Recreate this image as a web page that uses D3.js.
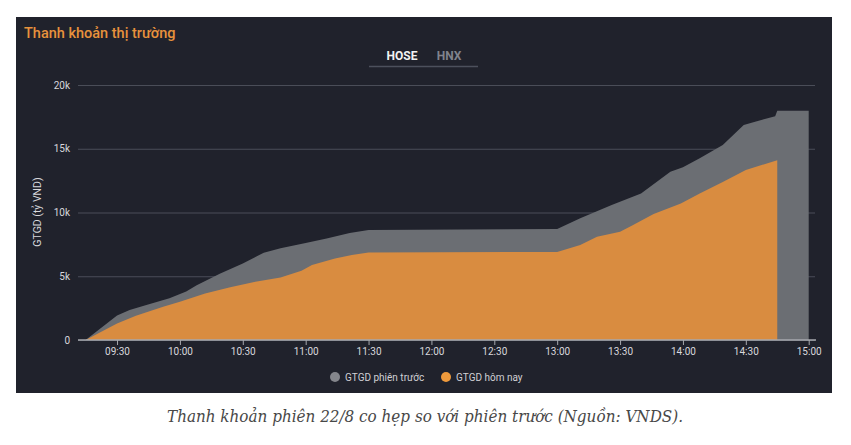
<!DOCTYPE html>
<html>
<head>
<meta charset="utf-8">
<script src="https://d3js.org/d3.v7.min.js"></script>
<style>
  body { margin: 0; background: #ffffff; }
  svg text { font-family: Roboto, "Noto Sans", sans-serif; }
</style>
</head>
<body>
<div id="chart"></div>
<script>
// GTGD phiên trước (gray), đơn vị tỷ VND
var prevTimes = ["09:15","09:30","09:36","09:44","09:55","10:03","10:08","10:19","10:30","10:40","10:48","11:00","11:10","11:21","11:30","13:00","13:11","13:26","13:40","13:54","14:00","14:08","14:19","14:29","14:34","14:44","14:45","15:00"];
var prevValues = [0,1930,2350,2750,3270,3800,4300,5200,6000,6850,7200,7600,7970,8400,8620,8700,9540,10590,11500,13200,13550,14250,15300,16860,17100,17550,17980,17980];

// GTGD hôm nay (orange)
var todayTimes = ["09:15","09:30","09:39","09:52","10:00","10:12","10:24","10:36","10:48","10:58","11:03","11:14","11:22","11:30","13:00","13:11","13:19","13:30","13:36","13:46","13:59","14:08","14:19","14:30","14:45"];
var todayValues = [0,1300,1900,2600,3000,3650,4130,4570,4900,5430,5880,6400,6660,6870,6900,7450,8100,8500,9000,9880,10700,11500,12400,13330,14100];

var yTicks = [0, 5000, 10000, 15000, 20000];
var yTickLabels = ["0", "5k", "10k", "15k", "20k"];
var xTickTimes = ["09:30","10:00","10:30","11:00","11:30","12:00","12:30","13:00","13:30","14:00","14:30","15:00"];

var W = 851, H = 445;
var parse = d3.timeParse("%H:%M");

var svg = d3.select("#chart").append("svg")
    .attr("width", W)
    .attr("height", H);

// dark panel
svg.append("rect")
    .attr("x", 16).attr("y", 17)
    .attr("width", 816).attr("height", 376)
    .attr("fill", "#20222c");

svg.append("text")
    .attr("x", 24).attr("y", 38)
    .attr("fill", "#e8923c")
    .style("font-size", "14.5px")
    .style("font-weight", 500)
    .text("Thanh khoản thị trường");

// tabs
svg.append("line")
    .attr("x1", 369).attr("x2", 478)
    .attr("y1", 66.5).attr("y2", 66.5)
    .attr("stroke", "#4c505c").attr("stroke-width", 1.5);
svg.append("text")
    .attr("x", 402).attr("y", 60)
    .attr("text-anchor", "middle")
    .attr("fill", "#f2f2f2")
    .style("font-size", "12px").style("font-weight", 700)
    .text("HOSE");
svg.append("text")
    .attr("x", 449).attr("y", 60)
    .attr("text-anchor", "middle")
    .attr("fill", "#80838d")
    .style("font-size", "12px").style("font-weight", 700)
    .text("HNX");

var x = d3.scaleTime()
    .domain([parse("09:15"), parse("15:00")])
    .range([85.6, 808.7]);

var y = d3.scaleLinear()
    .domain([0, 20000])
    .range([340, 85]);

// grid + y axis
var yAxis = svg.append("g")
    .attr("transform", "translate(78,0)")
    .call(d3.axisLeft(y)
        .tickValues(yTicks)
        .tickFormat(function(d, i) { return yTickLabels[i]; })
        .tickSize(-737)
        .tickPadding(8));
yAxis.select(".domain").remove();
yAxis.selectAll(".tick line").attr("stroke", "#4a4d58").attr("stroke-width", 1);
yAxis.selectAll(".tick text")
    .attr("fill", "#d8d8dc")
    .style("font-size", "10px")
    .style("font-family", "Roboto, sans-serif");

svg.append("text")
    .attr("transform", "translate(41,212) rotate(-90)")
    .attr("text-anchor", "middle")
    .attr("fill", "#d8d8dc")
    .style("font-size", "10.5px")
    .text("GTGD (tỷ VND)");

var prev = prevTimes.map(function(t, i) { return { t: parse(t), v: prevValues[i] }; });
var today = todayTimes.map(function(t, i) { return { t: parse(t), v: todayValues[i] }; });

var area = d3.area()
    .x(function(d) { return x(d.t); })
    .y0(y(0))
    .y1(function(d) { return y(d.v); });

svg.append("path")
    .datum(prev)
    .attr("d", area)
    .attr("fill", "#6b6e73");

svg.append("path")
    .datum(today)
    .attr("d", area)
    .attr("fill", "#d98c40");

// baseline
svg.append("line")
    .attr("x1", 78).attr("x2", 816)
    .attr("y1", 340).attr("y2", 340)
    .attr("stroke", "#a6a8ae").attr("stroke-width", 1.5);

var xAxis = svg.append("g")
    .attr("transform", "translate(0,340)")
    .call(d3.axisBottom(x)
        .tickValues(xTickTimes.map(parse))
        .tickFormat(d3.timeFormat("%H:%M"))
        .tickSize(5)
        .tickPadding(3));
xAxis.select(".domain").remove();
xAxis.selectAll(".tick line").attr("stroke", "#a6a8ae");
xAxis.selectAll(".tick text")
    .attr("fill", "#d8d8dc")
    .style("font-size", "10px")
    .style("font-family", "Roboto, sans-serif");

// legend
var legend = [
    { label: "GTGD phiên trước", color: "#84868c", cx: 335 },
    { label: "GTGD hôm nay", color: "#ef9a3c", cx: 446 }
];
var lg = svg.selectAll(".legend").data(legend).enter().append("g").attr("class", "legend");
lg.append("circle")
    .attr("cx", function(d) { return d.cx; })
    .attr("cy", 377)
    .attr("r", 5)
    .attr("fill", function(d) { return d.color; });
lg.append("text")
    .attr("x", function(d) { return d.cx + 10; })
    .attr("y", 380.5)
    .attr("fill", "#d0d0d4")
    .style("font-size", "10px")
    .text(function(d) { return d.label; });

// caption
svg.append("text")
    .attr("x", 425).attr("y", 422)
    .attr("text-anchor", "middle")
    .attr("fill", "#484848")
    .style("font-family", "'DejaVu Serif', 'Liberation Serif', serif")
    .style("font-style", "italic")
    .style("font-size", "16px")
    .attr("textLength", 516)
    .attr("lengthAdjust", "spacingAndGlyphs")
    .text("Thanh khoản phiên 22/8 co hẹp so với phiên trước (Nguồn: VNDS).");
</script>
</body>
</html>
